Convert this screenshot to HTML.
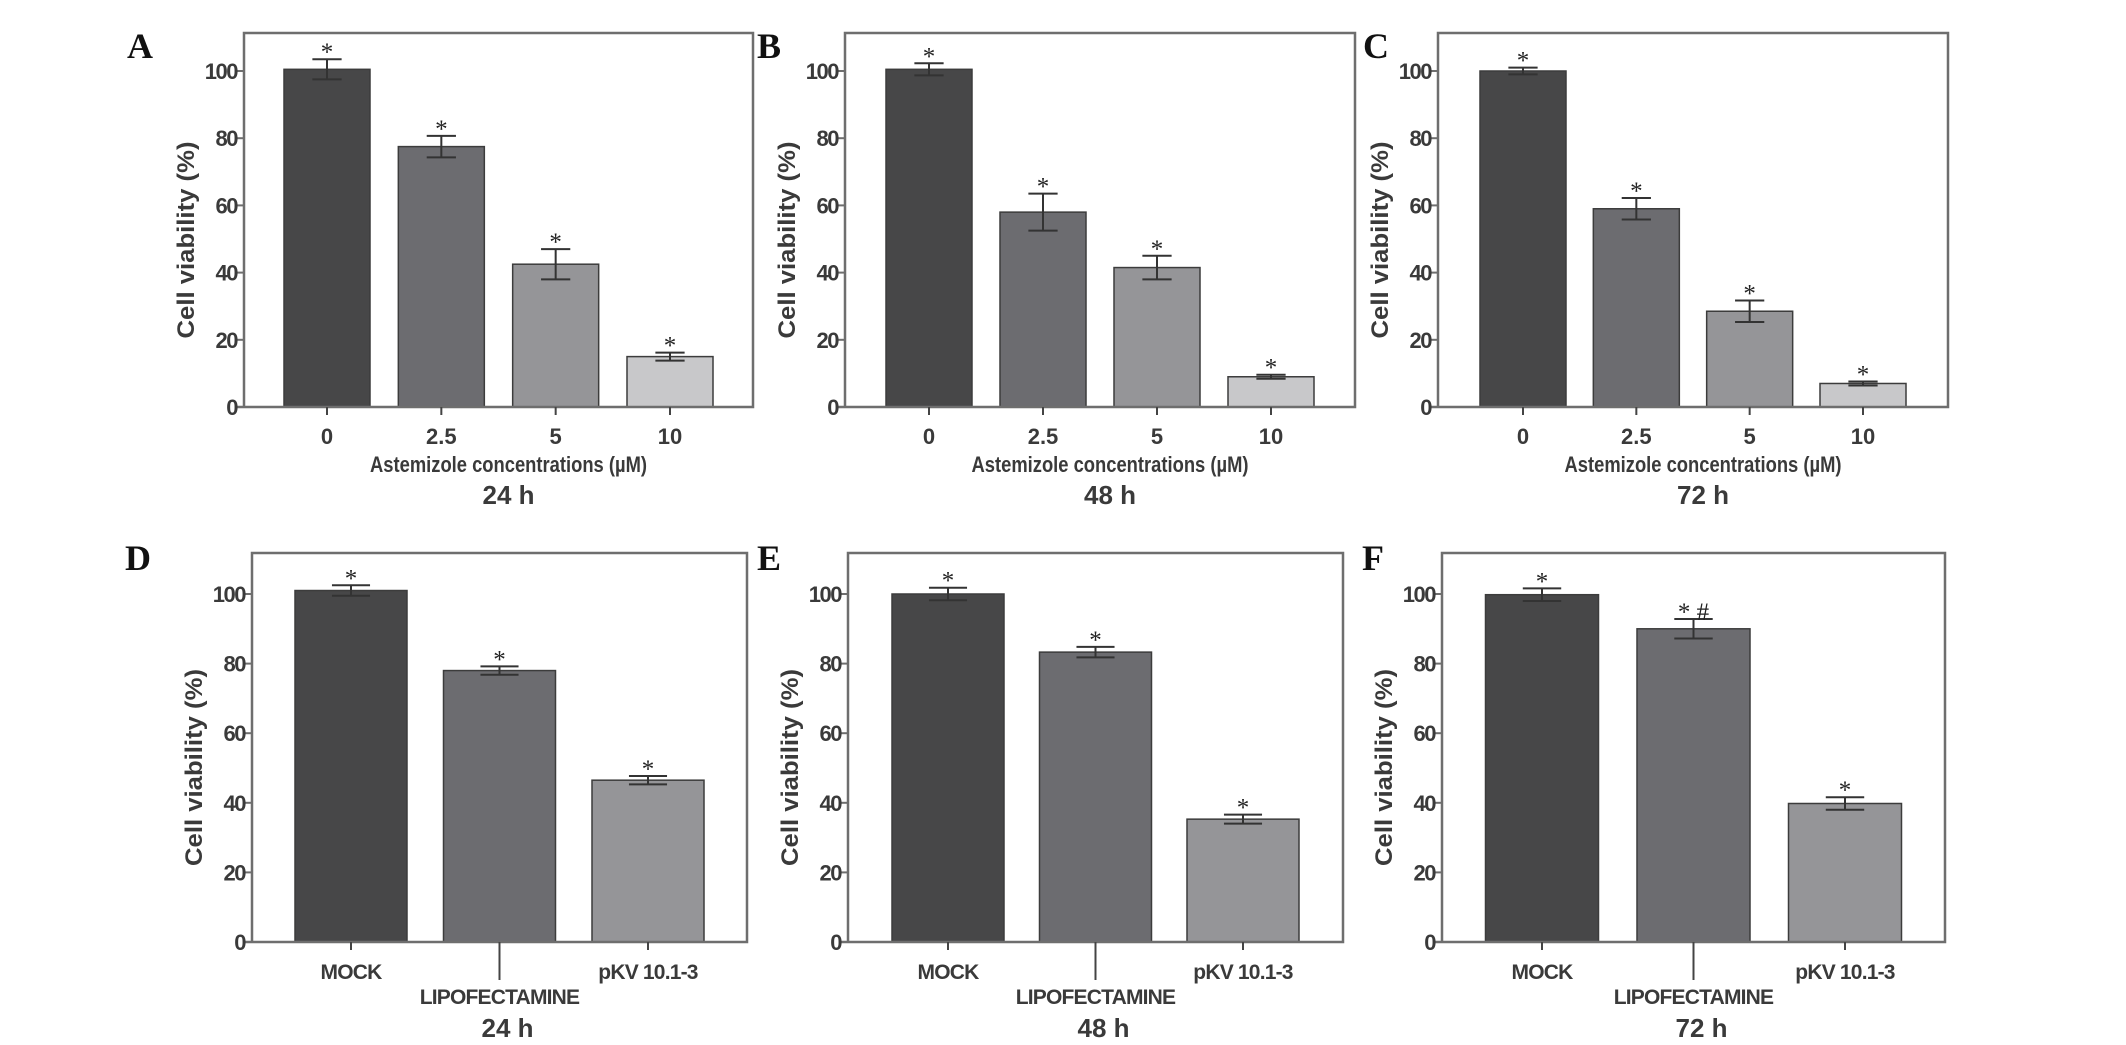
<!DOCTYPE html>
<html><head><meta charset="utf-8"><style>
html,body{margin:0;padding:0;background:#fff}
svg{display:block}
text{font-family:"Liberation Sans",Arial,sans-serif;font-weight:bold;fill:#3a3a3a}
.let{font-family:"Liberation Serif",serif;fill:#111;font-size:36px}
</style></head><body>
<svg id="fig" width="2126" height="1045" viewBox="0 0 2126 1045" xmlns="http://www.w3.org/2000/svg"></svg>
<script>
const concCats = ['0','2.5','5','10'];
const treatCats = ['MOCK','LIPOFECTAMINE','pKV 10.1-3'];
const yTicks = [0,20,40,60,80,100];
const valsA = [100.5,77.5,42.5,15];
const errA = [3,3.2,4.5,1.2];
const valsB = [100.5,58,41.5,9];
const errB = [1.8,5.5,3.5,0.6];
const valsC = [100,59,28.5,7];
const errC = [1,3.2,3.2,0.6];
const valsD = [101,78,46.5];
const errD = [1.5,1.2,1.2];
const valsE = [100,83.3,35.3];
const errE = [1.8,1.5,1.3];
const valsF = [99.8,90,39.8];
const errF = [1.8,2.8,1.8];
const marksF = ['*','* #','*'];
const colors = ['#474748','#6c6c70','#959598','#c8c8ca'];
const NS='http://www.w3.org/2000/svg';
const svg=document.getElementById('fig');
function mk(tag,attrs,parent,txt){const e=document.createElementNS(NS,tag);for(const k in attrs)e.setAttribute(k,attrs[k]);if(txt!==undefined)e.textContent=txt;(parent||svg).appendChild(e);return e;}

const panels=[
 {id:'a',letter:'A',lx:127,ly:58,L:244,R:753,T:33,Z:407,Y100:71,cats:concCats,vals:valsA,err:errA,margin:83,bw:86,time:'24 h',conc:true},
 {id:'b',letter:'B',lx:757,ly:58,L:845,R:1355,T:33,Z:407,Y100:71,cats:concCats,vals:valsB,err:errB,margin:84,bw:86,time:'48 h',conc:true},
 {id:'c',letter:'C',lx:1363,ly:58,L:1438,R:1948,T:33,Z:407,Y100:71,cats:concCats,vals:valsC,err:errC,margin:85,bw:86,time:'72 h',conc:true},
 {id:'d',letter:'D',lx:125,ly:570,L:252,R:747,T:553,Z:942,Y100:594,cats:treatCats,vals:valsD,err:errD,margin:99,bw:112,time:'24 h',conc:false},
 {id:'e',letter:'E',lx:757,ly:570,L:848,R:1343,T:553,Z:942,Y100:594,cats:treatCats,vals:valsE,err:errE,margin:100,bw:112,time:'48 h',conc:false},
 {id:'f',letter:'F',lx:1362,ly:570,L:1442,R:1945,T:553,Z:942,Y100:594,cats:treatCats,vals:valsF,err:errF,margin:100,bw:113,time:'72 h',conc:false,marks:marksF}
];

panels.forEach(p=>{
 const g=mk('g',{});
 
 
 const y=v=>p.Z-(p.Z-p.Y100)*v/100;
 const n=p.cats.length;
 const pitch=(p.R-p.L-2*p.margin)/(n-1);
 const x=i=>p.L+p.margin+i*pitch;
 const lt=mk('text',{x:p.lx,y:p.ly,class:'let'},g,p.letter);
 
 
 p.vals.forEach((v,i)=>{
  const r=mk('rect',{x:x(i)-p.bw/2,y:y(v),width:p.bw,height:p.Z-y(v),fill:colors[i],stroke:'#3c3c3c','stroke-width':1.5},g);
  
  
  const e=p.err[i], hw=p.bw*0.17;
  const eb=mk('path',{d:`M${x(i)} ${y(v+e)}V${y(v-e)}M${x(i)-hw} ${y(v+e)}h${2*hw}M${x(i)-hw} ${y(v-e)}h${2*hw}`,stroke:'#333','stroke-width':2,fill:'none'},g);
  
  
  const m=p.marks?p.marks[i]:'*';
  const st=mk('text',{x:x(i),y:y(v+e)+1,'text-anchor':'middle','font-size':25,style:'font-family:"Liberation Serif",serif;font-weight:normal;fill:#222'},g,m);
  
  
 });
 const fr=mk('path',{d:`M${p.L} ${p.Z}V${p.T}H${p.R}V${p.Z}H${p.L-8}`,stroke:'#6e6e6e','stroke-width':2.5,fill:'none'},g);
 
 
 yTicks.forEach(t=>{
  mk('line',{x1:p.L-7,x2:p.L,y1:y(t),y2:y(t),stroke:'#6e6e6e','stroke-width':2},g);
  const tl=mk('text',{x:p.L-7,y:y(t)+8,'text-anchor':'end','font-size':22,'letter-spacing':-1.5},g,t);
  
  
 });
 const yt=mk('text',{x:0,y:0,'text-anchor':'middle','font-size':24,textLength:197,lengthAdjust:'spacingAndGlyphs',transform:`translate(${p.L-50},${(p.T+p.Z)/2+20}) rotate(-90)`},g,'Cell viability (%)');
 
 
 p.cats.forEach((c,i)=>{
  let tickLen=8, ly=p.Z+37;
  if(!p.conc){ if(i===1){tickLen=38;ly=p.Z+62;} }
  mk('line',{x1:x(i),x2:x(i),y1:p.Z,y2:p.Z+tickLen,stroke:'#444','stroke-width':2},g);
  const xl=mk('text',{x:x(i),y:ly,'text-anchor':'middle','font-size':p.conc?22:21,'letter-spacing':p.conc?0:-0.8},g,c);
  
  
 });
 const cx=(p.L+p.R)/2;
 if(p.conc){
  const xt=mk('text',{x:cx+10,y:p.Z+65,'text-anchor':'middle','font-size':22,textLength:277,lengthAdjust:'spacingAndGlyphs'},g,'Astemizole concentrations (µM)');
  
  
 }
 const tt=mk('text',{x:p.conc?cx+10:x(1)+8,y:p.conc?p.Z+97:p.Z+95,'text-anchor':'middle','font-size':26},g,p.time);
 
 
});
</script>
</body></html>
